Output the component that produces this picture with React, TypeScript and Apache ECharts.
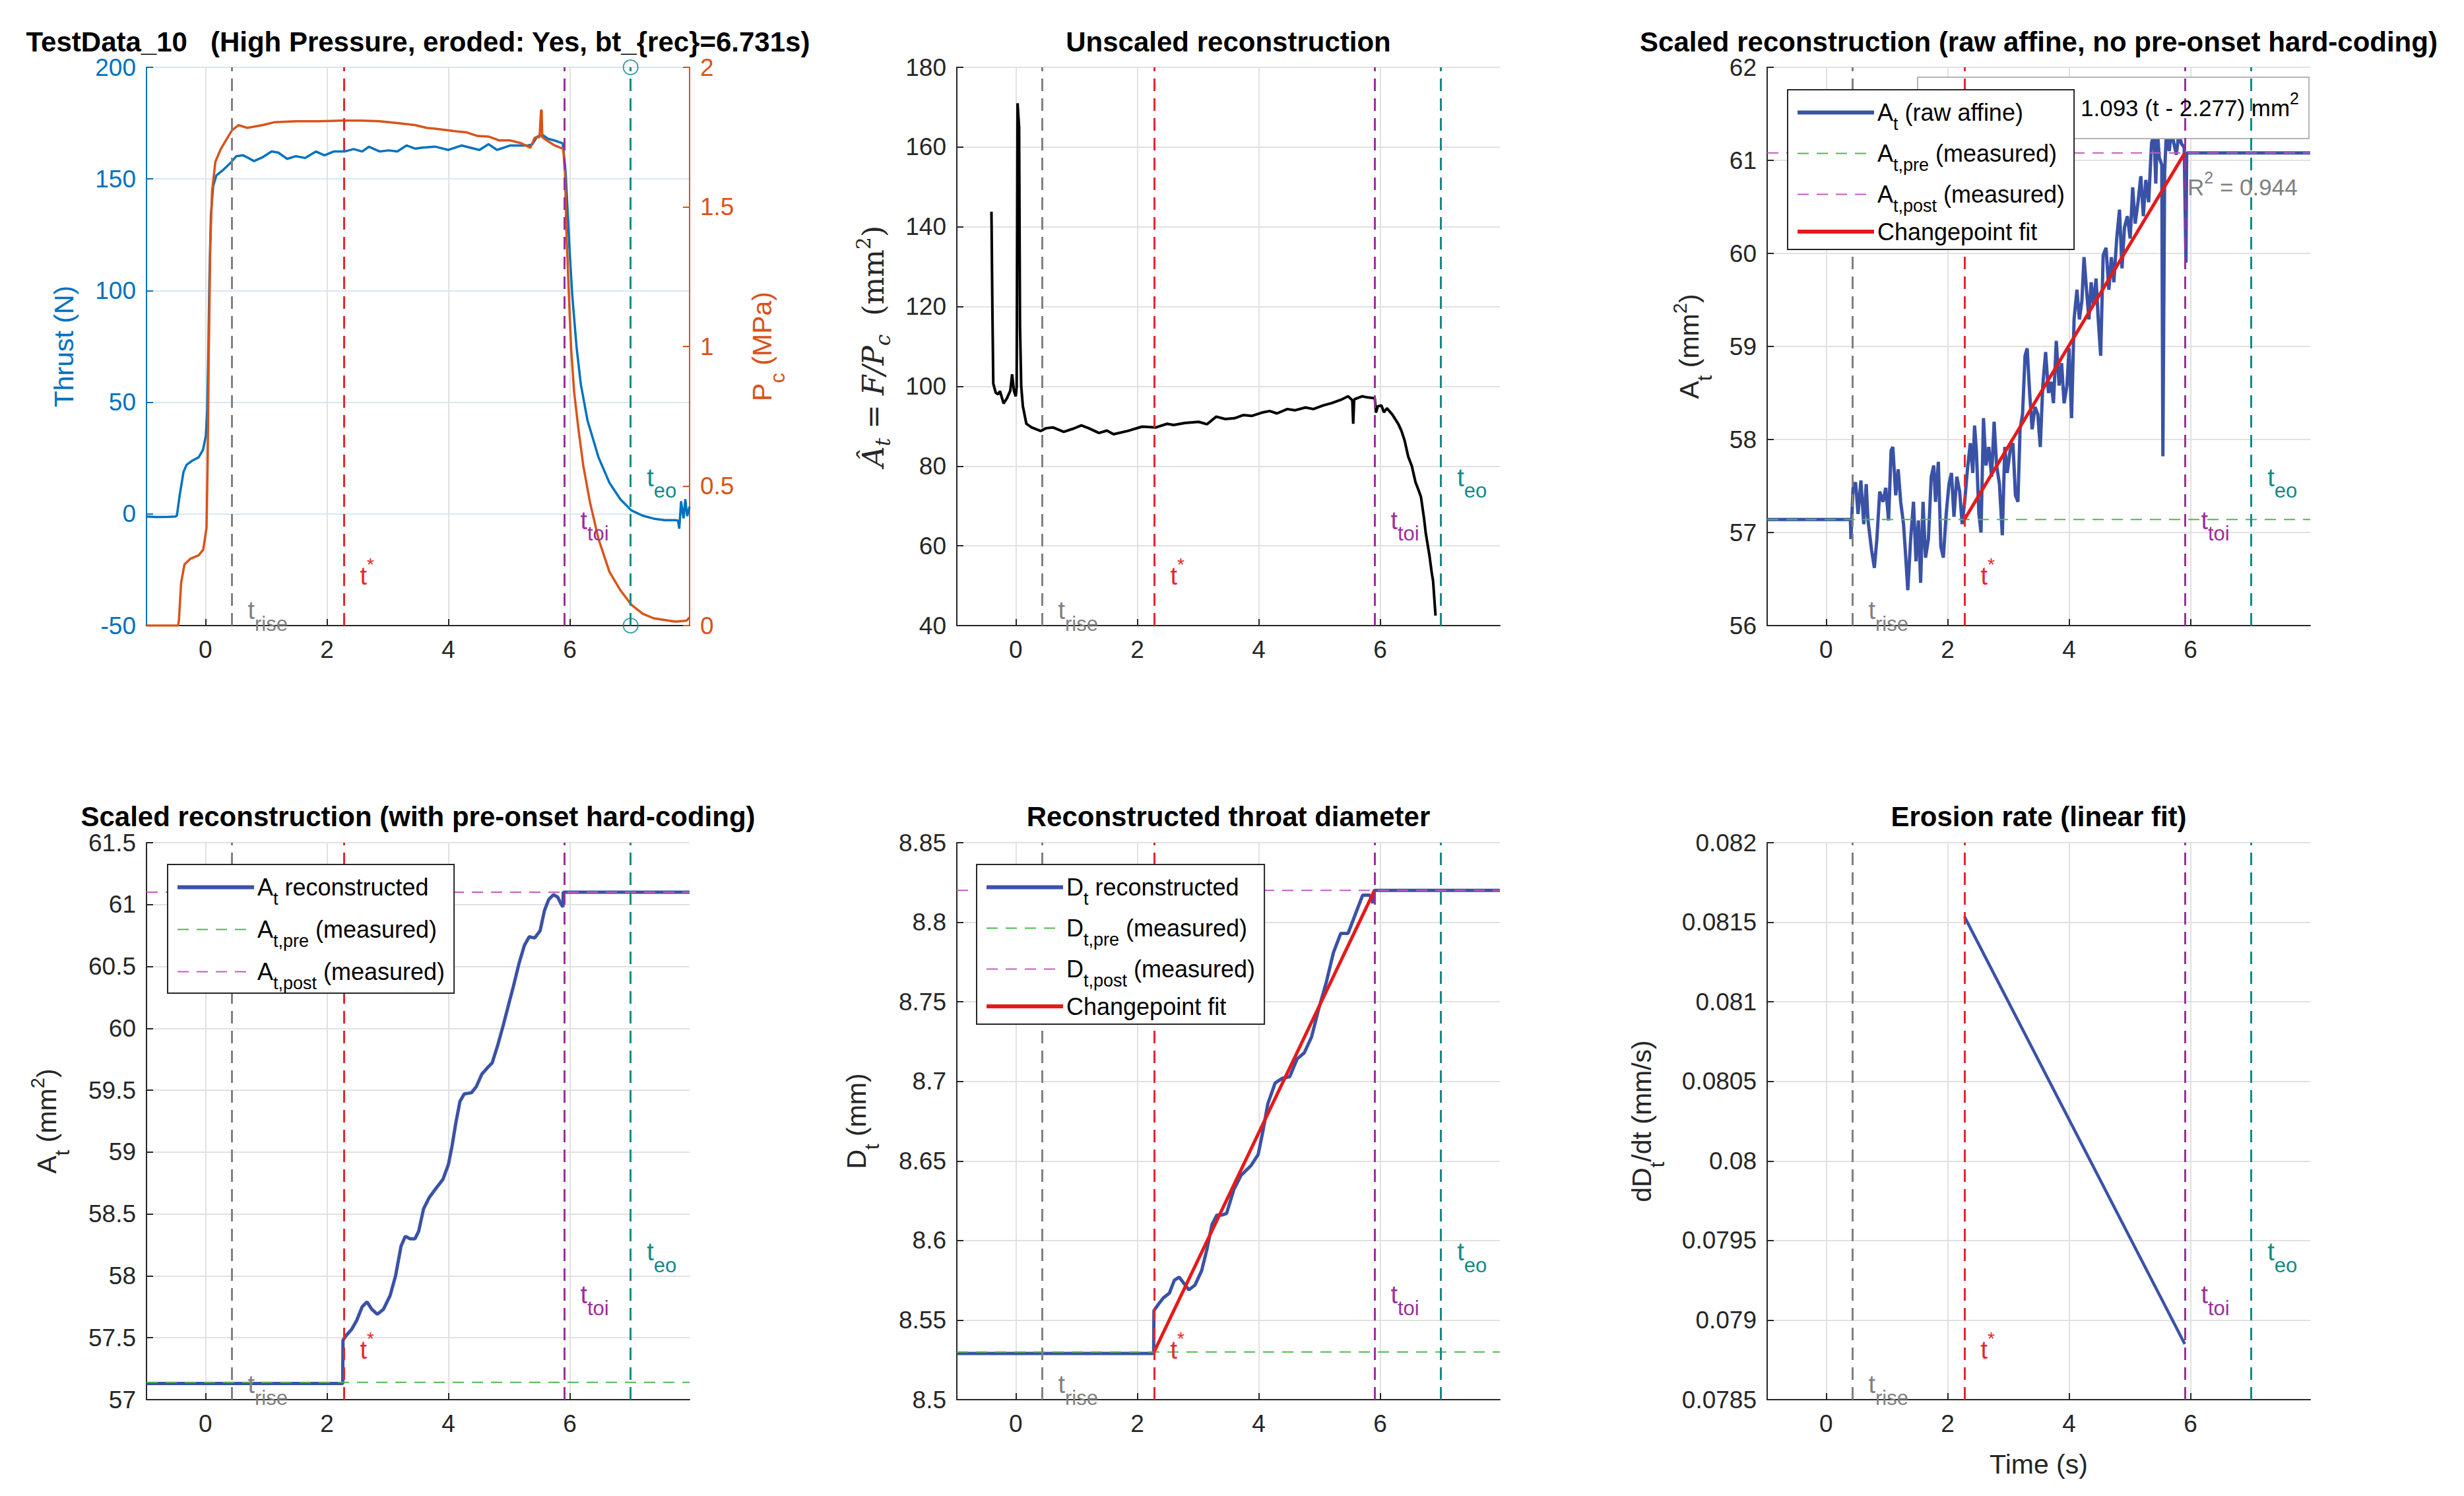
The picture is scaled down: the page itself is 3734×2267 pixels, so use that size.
import React, { useEffect, useRef } from 'react';
import * as echarts from 'echarts';

// ---------------- data ----------------
const T_RISE = 0.43;
const T_STAR = 2.277;
const T_TOI = 5.905;
const T_EO = 7.0;
const X_RANGE = [-0.97, 7.97];
const X_TICKS = [0, 2, 4, 6];

const THRUST_LIM = [-50, 200, 50];
const PC_LIM = [0, 2, 0.5];
const UNSCALED_LIM = [40, 180, 20];
const RAW_LIM = [56, 62, 1];
const REC_LIM = [57, 61.5, 0.5];
const DIA_LIM = [8.5, 8.85, 0.05];
const RATE_LIM = [0.0785, 0.082, 0.0005];

const A_PRE = 57.14;
const A_POST_RAW = 61.08;
const A_POST = 61.1;
const D_PRE = 8.53;
const D_POST = 8.82;
const FIT_TEXT = '1.093 (t - 2.277) mm';
const R2_TEXT = ' = 0.944';

const thrust = [
  [-0.97, -1.2], [-0.8, -1.4], [-0.6, -1.3], [-0.5, -1.2], [-0.47, -0.8], [-0.42, 9], [-0.36, 18.9], [-0.31, 22],
  [-0.22, 23.8], [-0.11, 25.4], [-0.04, 28.7], [0.007, 35], [0.03, 46.7], [0.047, 71], [0.065, 104], [0.09, 133.6],
  [0.127, 146.7], [0.18, 151.6], [0.29, 154], [0.42, 157.4], [0.51, 160.2], [0.62, 160.6], [0.7, 159.5], [0.8, 158],
  [0.945, 159.8], [1.09, 162.3], [1.2, 161.8], [1.345, 159], [1.49, 160.2], [1.64, 159.4], [1.82, 162.3], [1.96, 160.6],
  [2.11, 162.3], [2.29, 162.3], [2.44, 163.4], [2.58, 162.3], [2.69, 164.4], [2.87, 162.3], [3.02, 162.8], [3.16, 162.3],
  [3.31, 165], [3.45, 163.6], [3.57, 164], [3.78, 164.5], [4.0, 163], [4.22, 165], [4.51, 163], [4.66, 165.6],
  [4.8, 163], [5.02, 165], [5.31, 165], [5.38, 165.5], [5.46, 168.9], [5.55, 169.7], [5.64, 168], [5.75, 167.2],
  [5.88, 166], [5.9, 161.5], [5.93, 153], [5.96, 137], [6.0, 115.6], [6.04, 97.5], [6.11, 74.6], [6.18, 58],
  [6.29, 41.8], [6.47, 25.4], [6.65, 14], [6.83, 6.6], [7.01, 1.6], [7.2, -0.8], [7.38, -2.1], [7.56, -2.8],
  [7.74, -2.8], [7.78, -3], [7.8, -6.6], [7.83, 5.7], [7.87, -2], [7.9, 6.6], [7.93, -1], [7.97, 3.3],
];

const chamberPressure = [
  [-0.97, 0], [-0.45, 0], [-0.436, 0.02], [-0.4, 0.153], [-0.345, 0.219], [-0.25, 0.239], [-0.11, 0.252], [-0.036, 0.272],
  [0.018, 0.35], [0.036, 0.573], [0.055, 0.967], [0.08, 1.36], [0.11, 1.557], [0.164, 1.662], [0.255, 1.708], [0.364, 1.748],
  [0.436, 1.774], [0.545, 1.793], [0.69, 1.783], [0.945, 1.793], [1.127, 1.803], [1.49, 1.807], [1.855, 1.807], [2.218, 1.809],
  [2.58, 1.809], [2.87, 1.807], [3.16, 1.8], [3.45, 1.793], [3.64, 1.783], [3.78, 1.78], [4.0, 1.774], [4.15, 1.77],
  [4.3, 1.767], [4.48, 1.754], [4.66, 1.752], [4.84, 1.738], [5.02, 1.738], [5.2, 1.728], [5.35, 1.712], [5.42, 1.748],
  [5.5, 1.75], [5.525, 1.846], [5.535, 1.846], [5.545, 1.75], [5.6, 1.741], [5.75, 1.72], [5.89, 1.708], [5.92, 1.62],
  [5.94, 1.426], [5.98, 1.203], [6.02, 0.993], [6.07, 0.836], [6.14, 0.705], [6.22, 0.573], [6.33, 0.442], [6.47, 0.311],
  [6.65, 0.193], [6.83, 0.127], [7.01, 0.075], [7.2, 0.042], [7.38, 0.026], [7.56, 0.02], [7.74, 0.014], [7.92, 0.018],
  [7.97, 0.029],
];

const unscaledArea = [
  [-0.4, 143.8], [-0.385, 120], [-0.37, 100.7], [-0.33, 98.4], [-0.29, 98], [-0.26, 98.8], [-0.2, 95.7], [-0.146, 97],
  [-0.09, 98.9], [-0.06, 103], [-0.03, 98.9], [0.0, 97.5], [0.015, 100], [0.03, 171], [0.055, 165], [0.07, 115],
  [0.09, 100], [0.117, 95], [0.175, 90.6], [0.26, 89.7], [0.41, 88.8], [0.5, 89.5], [0.61, 89.7], [0.79, 88.6],
  [0.95, 89.4], [1.08, 90.2], [1.2, 89.5], [1.37, 88.3], [1.5, 88.9], [1.61, 88], [1.84, 88.8], [2.08, 89.9],
  [2.31, 89.7], [2.49, 90.6], [2.6, 90.3], [2.78, 90.8], [3.01, 91.1], [3.15, 90.5], [3.3, 92.4], [3.45, 91.8],
  [3.6, 92], [3.75, 92.8], [3.89, 92.6], [4.05, 93.4], [4.18, 93.8], [4.3, 93.2], [4.47, 94.3], [4.6, 94],
  [4.77, 94.7], [4.9, 94.3], [5.06, 95.2], [5.2, 95.8], [5.35, 96.6], [5.47, 97.5], [5.54, 96.5], [5.555, 90.6],
  [5.57, 96.5], [5.58, 96.8], [5.7, 97.5], [5.8, 97.2], [5.91, 97], [5.93, 93.4], [5.96, 95], [6.02, 95.2],
  [6.06, 93.5], [6.11, 94.5], [6.2, 92.9], [6.3, 90.5], [6.35, 88.8], [6.4, 86.5], [6.46, 82.4], [6.52, 80],
  [6.58, 76], [6.63, 74], [6.67, 72.3], [6.72, 67], [6.75, 63.1], [6.81, 57.6], [6.85, 53], [6.87, 51.2], [6.91, 42.5],
];

const rawAffineArea = [
  [-0.97, 57.14], [0.40, 57.14], [0.409, 56.93], [0.444, 57.48], [0.485, 57.54], [0.526, 57.2], [0.573, 57.56], [0.62, 57.09],
  [0.661, 57.52], [0.69, 57.13], [0.749, 56.81], [0.795, 56.62], [0.836, 56.93], [0.883, 57.44], [0.936, 57.33], [0.982, 57.48],
  [1.029, 57.13], [1.07, 57.88], [1.099, 57.92], [1.146, 57.4], [1.187, 57.68], [1.228, 57.33], [1.275, 57.09], [1.304, 56.81],
  [1.345, 56.38], [1.392, 56.93], [1.439, 57.33], [1.48, 56.69], [1.52, 57.13], [1.556, 56.46], [1.596, 57.33], [1.637, 56.73],
  [1.684, 56.93], [1.731, 57.6], [1.772, 57.72], [1.801, 57.33], [1.848, 57.76], [1.889, 56.85], [1.93, 56.73], [1.977, 57.2],
  [2.023, 57.52], [2.064, 57.64], [2.105, 57.17], [2.152, 57.6], [2.199, 57.44], [2.24, 57.09], [2.281, 57.33], [2.327, 57.68],
  [2.374, 57.96], [2.415, 57.64], [2.444, 58.15], [2.474, 57.88], [2.515, 57.2], [2.55, 57.0], [2.591, 58.23], [2.632, 57.72],
  [2.678, 57.92], [2.725, 57.6], [2.766, 58.19], [2.807, 57.72], [2.854, 57.52], [2.901, 56.97], [2.942, 57.92], [2.982, 57.64],
  [3.029, 57.88], [3.076, 57.96], [3.117, 57.4], [3.158, 57.33], [3.193, 58.11], [3.234, 58.27], [3.275, 58.9], [3.31, 58.98],
  [3.351, 58.5], [3.392, 58.11], [3.439, 58.35], [3.485, 58.27], [3.526, 57.92], [3.567, 58.58], [3.614, 58.94], [3.661, 58.5],
  [3.702, 58.62], [3.743, 58.39], [3.789, 59.06], [3.836, 58.58], [3.877, 58.82], [3.918, 58.39], [3.965, 58.58], [4.0, 58.98],
  [4.041, 58.23], [4.082, 59.29], [4.129, 59.61], [4.17, 59.29], [4.211, 59.49], [4.246, 59.96], [4.287, 59.61], [4.327, 59.29],
  [4.363, 59.69], [4.404, 59.45], [4.444, 59.73], [4.48, 59.29], [4.52, 58.9], [4.561, 59.98], [4.608, 60.06], [4.655, 59.61],
  [4.696, 59.96], [4.737, 59.69], [4.784, 60.16], [4.83, 60.47], [4.871, 59.84], [4.912, 60.28], [4.959, 60.4], [5.006, 60.16],
  [5.047, 60.71], [5.088, 60.32], [5.135, 60.55], [5.181, 60.83], [5.222, 60.4], [5.263, 60.79], [5.31, 60.55], [5.357, 61.18],
  [5.398, 61.3], [5.427, 60.75], [5.456, 61.3], [5.485, 61.03], [5.526, 60.95], [5.544, 57.82], [5.573, 60.87], [5.602, 61.3],
  [5.649, 61.1], [5.69, 61.35], [5.719, 61.2], [5.766, 61.06], [5.807, 61.3], [5.848, 61.18], [5.895, 61.14], [5.924, 59.9],
  [5.936, 61.08], [7.97, 61.08],
];

const reconstructedArea = [
  [-0.97, 57.13], [2.26, 57.13], [2.265, 57.48], [2.32, 57.52], [2.41, 57.57], [2.49, 57.64], [2.58, 57.75], [2.66, 57.79],
  [2.74, 57.73], [2.83, 57.69], [2.93, 57.73], [3.04, 57.84], [3.13, 58.0], [3.22, 58.24], [3.29, 58.32], [3.37, 58.3],
  [3.45, 58.3], [3.51, 58.36], [3.59, 58.54], [3.68, 58.63], [3.8, 58.71], [3.91, 58.78], [4.0, 58.9], [4.06, 59.05],
  [4.12, 59.23], [4.19, 59.41], [4.26, 59.47], [4.38, 59.48], [4.46, 59.53], [4.55, 59.63], [4.64, 59.68], [4.72, 59.72],
  [4.81, 59.86], [4.9, 60.02], [4.99, 60.19], [5.07, 60.34], [5.16, 60.52], [5.25, 60.67], [5.33, 60.74], [5.42, 60.73],
  [5.51, 60.79], [5.58, 60.95], [5.65, 61.04], [5.73, 61.08], [5.8, 61.06], [5.86, 61.0], [5.885, 60.98], [5.89, 61.1],
  [7.97, 61.1],
];

const reconstructedDiameter = [
  [-0.97, 8.529], [2.27, 8.529], [2.275, 8.556], [2.35, 8.56], [2.43, 8.564], [2.53, 8.567], [2.61, 8.575], [2.69, 8.577],
  [2.77, 8.573], [2.85, 8.569], [2.95, 8.572], [3.06, 8.581], [3.15, 8.595], [3.23, 8.61], [3.31, 8.616], [3.39, 8.616],
  [3.47, 8.617], [3.59, 8.632], [3.71, 8.641], [3.87, 8.647], [3.99, 8.654], [4.07, 8.669], [4.15, 8.686], [4.27, 8.699],
  [4.39, 8.702], [4.51, 8.703], [4.63, 8.714], [4.75, 8.718], [4.87, 8.728], [4.99, 8.746], [5.11, 8.762], [5.23, 8.781],
  [5.35, 8.793], [5.47, 8.793], [5.59, 8.805], [5.71, 8.817], [5.83, 8.817], [5.88, 8.812], [5.9, 8.82], [7.97, 8.82],
];

const areaFit = [[T_STAR, A_PRE], [T_TOI, A_POST_RAW]];
const diameterFit = [[T_STAR, D_PRE], [T_TOI, D_POST]];
const erosionRate = [[T_STAR, 0.081536], [T_TOI, 0.078849]];

// ---------------- styling ----------------
const SANS = '"Liberation Sans", Arial, Helvetica, sans-serif';
const SERIF = '"DejaVu Serif", "Liberation Serif", serif';
const AX = '#262626';
const GRIDC = '#e1e1e1';
const BLUE1 = '#0072BD';
const ORANGE = '#D95319';
const BLUE = '#3A52A6';
const RED = '#E51A1A';
const GREEN = '#4DBA4D';
const PINK = '#C25BC2';
const C_RISE = '#808080';
const C_STAR = '#E6262B';
const C_TOI = '#9B2F9B';
const C_EO = '#128A8A';

const GL = [222, 1450, 2678];
const GT = [102, 1277];
const GW = 823;
const GH = [846, 844];

const F_RISE = 0.027, F_STAR = 0.089, F_TOI = 0.188, F_EO = 0.265;

const labelRich = (color: string) => ({
  t: { fontSize: 38, lineHeight: 70, color, fontFamily: SANS },
  s: { fontSize: 31, lineHeight: 70, color, fontFamily: SANS, padding: [40, 0, 0, 0] },
  u: { fontSize: 28, lineHeight: 70, color, fontFamily: SANS, padding: [0, 0, 34, 0] },
});

const tLabels = (lim: number[]) => {
  const at = (f: number) => lim[0] + f * (lim[1] - lim[0]);
  const mk = (t: number, f: number, txt: string, color: string) => ({
    coord: [t, at(f)],
    label: { show: true, position: 'right', distance: 24, formatter: txt, rich: labelRich(color) },
  });
  return {
    silent: true,
    symbol: 'circle',
    symbolSize: 1,
    itemStyle: { color: 'rgba(0,0,0,0)' },
    data: [
      mk(T_RISE, F_RISE, '{t|t}{s|rise}', C_RISE),
      mk(T_STAR, F_STAR, '{t|t}{u|*}', C_STAR),
      mk(T_TOI, F_TOI, '{t|t}{s|toi}', C_TOI),
      mk(T_EO, F_EO, '{t|t}{s|eo}', C_EO),
    ],
  };
};

const vLines = () => ({
  silent: true,
  symbol: ['none', 'none'],
  label: { show: false },
  data: [
    { xAxis: T_RISE, lineStyle: { color: C_RISE, type: [19, 11], width: 3 } },
    { xAxis: T_STAR, lineStyle: { color: C_STAR, type: [19, 11], width: 3 } },
    { xAxis: T_TOI, lineStyle: { color: C_TOI, type: [19, 11], width: 3 } },
    { xAxis: T_EO, lineStyle: { color: C_EO, type: [19, 11], width: 3 } },
  ],
});

const xAxisFor = (i: number) => ({
  type: 'value', gridIndex: i, min: X_RANGE[0], max: X_RANGE[1],
  axisLine: { show: true, onZero: false, lineStyle: { color: AX, width: 2 } },
  axisTick: { show: true, inside: true, length: 10, customValues: X_TICKS, lineStyle: { color: AX, width: 2 } },
  axisLabel: { customValues: X_TICKS, fontSize: 37, color: AX, margin: 18, fontFamily: SANS },
  splitLine: { show: true, lineStyle: { color: GRIDC, width: 2 } },
});

const yAxisFor = (i: number, lim: number[], opts: any = {}) => ({
  type: 'value', gridIndex: i, min: lim[0], max: lim[1], interval: lim[2],
  position: opts.position || 'left',
  axisLine: { show: true, onZero: false, lineStyle: { color: opts.color || AX, width: 2 } },
  axisTick: { show: true, inside: true, length: 10, lineStyle: { color: opts.color || AX, width: 2 } },
  axisLabel: { fontSize: 37, lineHeight: 34, color: opts.color || AX, margin: 16, fontFamily: SANS, formatter: opts.fmt },
  splitLine: { show: opts.split !== false, lineStyle: { color: opts.splitColor || GRIDC, width: 2 } },
});

const hLine = (name: string, xi: number, yi: number, v: number, color: string) => ({
  name, type: 'line', xAxisIndex: xi, yAxisIndex: yi, silent: true,
  data: [[X_RANGE[0], v], [X_RANGE[1], v]], symbol: 'none',
  lineStyle: { color, width: 2, type: [17, 12] }, itemStyle: { color },
});

const LEGEND_TEXT: Record<string, string> = {
  p3_raw: '{n|A}{s|t}{n| (raw affine)}',
  p3_pre: '{n|A}{s|t,pre}{n| (measured)}',
  p3_post: '{n|A}{s|t,post}{n| (measured)}',
  p3_fit: '{n|Changepoint fit}',
  p4_rec: '{n|A}{s|t}{n| reconstructed}',
  p4_pre: '{n|A}{s|t,pre}{n| (measured)}',
  p4_post: '{n|A}{s|t,post}{n| (measured)}',
  p5_rec: '{n|D}{s|t}{n| reconstructed}',
  p5_pre: '{n|D}{s|t,pre}{n| (measured)}',
  p5_post: '{n|D}{s|t,post}{n| (measured)}',
  p5_fit: '{n|Changepoint fit}',
};

const legendItem = (name: string) => ({
  name,
  lineStyle: { width: /(_pre|_post)$/.test(name) ? 2 : 6 },
});

const legendFor = (left: number, top: number, names: string[], gap: number) => ({
  left, top, orient: 'vertical', data: names.map(legendItem), selectedMode: false,
  backgroundColor: '#ffffff', borderColor: AX, borderWidth: 2, borderRadius: 0,
  padding: [4, 14, 2, 12], itemGap: gap, itemWidth: 116, itemHeight: 20,
  itemStyle: { opacity: 0 },
  formatter: (n: string) => LEGEND_TEXT[n],
  textStyle: {
    fontFamily: SANS, fontSize: 36, color: '#000', lineHeight: 50,
    rich: {
      n: { fontSize: 36, lineHeight: 50, fontFamily: SANS, color: '#000' },
      s: { fontSize: 27, lineHeight: 50, fontFamily: SANS, color: '#000', padding: [34, 0, 0, 0] },
    },
  },
  z: 10,
});

const nameRich = (color: string) => ({
  n: { fontSize: 41, lineHeight: 80, fontFamily: SANS, fill: color },
  s: { fontSize: 31, lineHeight: 80, fontFamily: SANS, fill: color, padding: [47, 0, 0, 0] },
  u: { fontSize: 29, lineHeight: 80, fontFamily: SANS, fill: color, padding: [0, 0, 28, 0] },
});

const vName = (x: number, y: number, text: string, color: string, rich?: any) => ({
  type: 'text', x, y, rotation: Math.PI / 2, silent: true, z: 6,
  style: { text, align: 'center', verticalAlign: 'middle', rich: rich || nameRich(color), fill: color },
});

const title = (x: number, y: number, text: string) => ({
  type: 'text', x, y, silent: true, z: 6,
  style: { text, fontSize: 42, lineHeight: 38, fontWeight: 'bold', fontFamily: SANS, fill: '#000', align: 'center', verticalAlign: 'middle' },
});

function buildOption() {
  const grids: any[] = [];
  for (let r = 0; r < 2; r++) for (let c = 0; c < 3; c++) {
    grids.push({ left: GL[c], top: GT[r], width: GW, height: GH[r], outerBoundsMode: 'none', containLabel: false });
  }
  const xAxes = [0, 1, 2, 3, 4, 5].map(xAxisFor);
  const yAxes = [
    yAxisFor(0, THRUST_LIM, { color: BLUE1, splitColor: '#d7e7f3' }),
    yAxisFor(0, PC_LIM, { color: ORANGE, position: 'right', split: false }),
    yAxisFor(1, UNSCALED_LIM),
    yAxisFor(2, RAW_LIM),
    yAxisFor(3, REC_LIM, { fmt: (v: number) => String(+v.toFixed(1)) }),
    yAxisFor(4, DIA_LIM, { fmt: (v: number) => String(+v.toFixed(2)) }),
    yAxisFor(5, RATE_LIM, { fmt: (v: number) => String(+v.toFixed(4)) }),
  ];

  const line = (name: string, xi: number, yi: number, data: number[][], color: string, width: number, extra: any = {}) => ({
    name, type: 'line', xAxisIndex: xi, yAxisIndex: yi, data, symbol: 'none', showSymbol: false,
    lineStyle: { color, width }, itemStyle: { color }, ...extra,
  });

  const series: any[] = [
    line('thrust', 0, 0, thrust, BLUE1, 3.5, { markLine: vLines(), markPoint: tLabels(THRUST_LIM) }),
    line('pc', 0, 1, chamberPressure, ORANGE, 3.5),
    {
      name: 'eo_marks', type: 'scatter', xAxisIndex: 0, yAxisIndex: 0, silent: true, clip: false,
      data: [[T_EO, THRUST_LIM[1]], [T_EO, THRUST_LIM[0]]], symbol: 'circle', symbolSize: 22,
      itemStyle: { color: 'rgba(0,0,0,0)', borderColor: C_EO, borderWidth: 2 },
    },
    line('unscaled', 1, 2, unscaledArea, '#000000', 4, { markLine: vLines(), markPoint: tLabels(UNSCALED_LIM) }),
    line('p3_raw', 2, 3, rawAffineArea, BLUE, 5, { markLine: vLines(), markPoint: tLabels(RAW_LIM) }),
    hLine('p3_pre', 2, 3, A_PRE, GREEN),
    hLine('p3_post', 2, 3, A_POST_RAW, PINK),
    line('p3_fit', 2, 3, areaFit, RED, 5),
    line('p4_rec', 3, 4, reconstructedArea, BLUE, 5, { markLine: vLines(), markPoint: tLabels(REC_LIM) }),
    hLine('p4_pre', 3, 4, A_PRE, GREEN),
    hLine('p4_post', 3, 4, A_POST, PINK),
    line('p5_rec', 4, 5, reconstructedDiameter, BLUE, 5, { markLine: vLines(), markPoint: tLabels(DIA_LIM) }),
    hLine('p5_pre', 4, 5, D_PRE, GREEN),
    hLine('p5_post', 4, 5, D_POST, PINK),
    line('p5_fit', 4, 5, diameterFit, RED, 5),
    line('rate', 5, 6, erosionRate, BLUE, 4.5, { markLine: vLines(), markPoint: tLabels(RATE_LIM) }),
  ];

  const serifRich = {
    i: { fontSize: 44, lineHeight: 80, fontFamily: SERIF, fontStyle: 'italic', fill: AX },
    is: { fontSize: 31, lineHeight: 80, fontFamily: SERIF, fontStyle: 'italic', fill: AX, padding: [30, 0, 0, 0] },
    r: { fontSize: 44, lineHeight: 80, fontFamily: SERIF, fill: AX },
    ru: { fontSize: 30, lineHeight: 80, fontFamily: SERIF, fill: AX, padding: [0, 0, 30, 0] },
  };

  const colC = GL.map((l) => l + GW / 2);
  const graphics: any[] = [
    title(colC[0], 63, 'TestData_10   (High Pressure, eroded: Yes, bt_{rec}=6.731s)'),
    title(colC[1], 63, 'Unscaled reconstruction'),
    title(colC[2], 63, 'Scaled reconstruction (raw affine, no pre-onset hard-coding)'),
    title(colC[0], 1237, 'Scaled reconstruction (with pre-onset hard-coding)'),
    title(colC[1], 1237, 'Reconstructed throat diameter'),
    title(colC[2], 1237, 'Erosion rate (linear fit)'),
    vName(97, 525, '{n|Thrust (N)}', BLUE1),
    vName(1155, 525, '{n|P}{s|c}{n| (MPa)}', ORANGE),
    vName(1323, 525, '{i|Â}{is|t}{r| = }{i|F/P}{is|c}{r|  (mm}{ru|2}{r|)}', AX, serifRich),
    vName(2560, 525, '{n|A}{s|t}{n| (mm}{u|2}{n|)}', AX),
    vName(71, 1699, '{n|A}{s|t}{n| (mm}{u|2}{n|)}', AX),
    vName(1298, 1699, '{n|D}{s|t}{n| (mm)}', AX),
    vName(2488, 1699, '{n|dD}{s|t}{n|/dt (mm/s)}', AX),
    {
      type: 'text', x: colC[2], y: 2219, silent: true, z: 6,
      style: { text: 'Time (s)', fontSize: 41, fontFamily: SANS, fill: AX, align: 'center', verticalAlign: 'middle' },
    },
    {
      type: 'rect', silent: true, z: 5,
      shape: { x: 2906, y: 117, width: 593, height: 93 },
      style: { fill: '#ffffff', stroke: '#b4b4b4', lineWidth: 2 },
    },
    {
      type: 'text', x: 3153, y: 163, silent: true, z: 6,
      style: {
        text: '{n|' + FIT_TEXT + '}{u|2}', align: 'left', verticalAlign: 'middle',
        rich: {
          n: { fontSize: 35, lineHeight: 60, fontFamily: SANS, fill: '#000' },
          u: { fontSize: 25, lineHeight: 60, fontFamily: SANS, fill: '#000', padding: [0, 0, 28, 0] },
        },
      },
    },
    {
      type: 'text', x: 3315, y: 283, silent: true, z: 6,
      style: {
        text: '{n|R}{u|2}{n|' + R2_TEXT + '}', align: 'left', verticalAlign: 'middle',
        rich: {
          n: { fontSize: 35, lineHeight: 60, fontFamily: SANS, fill: '#808080' },
          u: { fontSize: 25, lineHeight: 60, fontFamily: SANS, fill: '#808080', padding: [0, 0, 28, 0] },
        },
      },
    },
  ];

  return {
    animation: false,
    backgroundColor: '#ffffff',
    textStyle: { fontFamily: SANS },
    grid: grids,
    xAxis: xAxes,
    yAxis: yAxes,
    series,
    legend: [
      legendFor(2709, 136, ['p3_raw', 'p3_pre', 'p3_post', 'p3_fit'], 1),
      legendFor(254, 1310, ['p4_rec', 'p4_pre', 'p4_post'], 3),
      legendFor(1480, 1310, ['p5_rec', 'p5_pre', 'p5_post', 'p5_fit'], 1),
    ],
    graphic: { elements: graphics },
  };
}

export default function App() {
  const ref = useRef<HTMLDivElement>(null);
  useEffect(() => {
    document.body.style.margin = '0';
    const chart = echarts.init(ref.current as HTMLDivElement, undefined, { renderer: 'svg' });
    chart.setOption(buildOption() as any);
    return () => chart.dispose();
  }, []);
  return <div ref={ref} style={{ position: 'absolute', left: 0, top: 0, width: 3734, height: 2267, background: '#fff' }} />;
}
